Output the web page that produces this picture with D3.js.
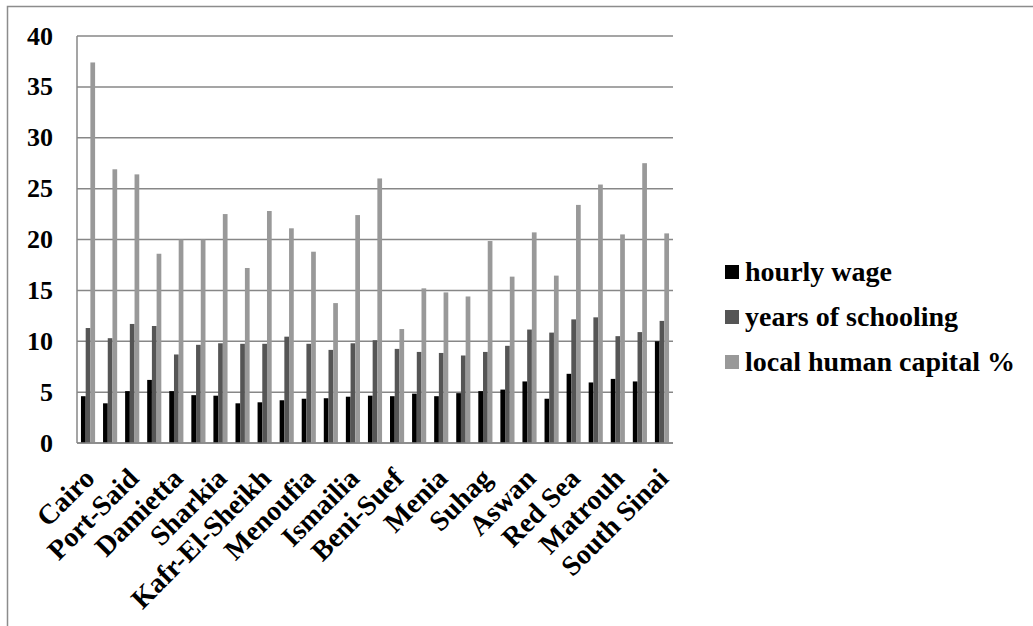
<!DOCTYPE html>
<html>
<head>
<meta charset="utf-8">
<script src="https://cdn.jsdelivr.net/npm/d3@7/dist/d3.min.js"></script>
<style>
  html, body { margin: 0; padding: 0; background: #ffffff; }
  svg { display: block; }
  text { font-family: "Liberation Serif", "Times New Roman", serif; font-weight: bold; fill: #000; }
</style>
</head>
<body>
<svg id="chart" width="1033" height="626"></svg>
<script>
// Governorates (27), in the order they are plotted
const governorates = [
  "Cairo", "Alexandria", "Port-Said", "Suez", "Damietta", "Dakahlia", "Sharkia",
  "Kalyoubia", "Kafr-El-Sheikh", "Gharbia", "Menoufia", "Behera", "Ismailia",
  "Giza", "Beni-Suef", "Fayoum", "Menia", "Assiut", "Suhag", "Qena", "Aswan",
  "Luxor", "Red Sea", "New Valley", "Matrouh", "North Sinai", "South Sinai"
];

const seriesNames = ["hourly wage", "years of schooling", "local human capital %"];

const hourlyWage = [
  4.6, 3.9, 5.1, 6.2, 5.1, 4.7, 4.65, 3.9, 4.0, 4.2, 4.35, 4.4, 4.55,
  4.65, 4.6, 4.85, 4.6, 4.9, 5.1, 5.25, 6.05, 4.35, 6.8, 5.95, 6.3, 6.05, 10.0
];
const yearsOfSchooling = [
  11.3, 10.3, 11.7, 11.5, 8.7, 9.65, 9.8, 9.75, 9.75, 10.45, 9.75, 9.15, 9.8,
  10.1, 9.25, 8.95, 8.85, 8.6, 8.95, 9.55, 11.15, 10.85, 12.15, 12.35, 10.5, 10.9, 12.0
];
const localHumanCapital = [
  37.4, 26.9, 26.4, 18.6, 20.0, 20.0, 22.5, 17.2, 22.8, 21.1, 18.8, 13.75, 22.4,
  26.0, 11.2, 15.2, 14.8, 14.4, 19.85, 16.35, 20.7, 16.45, 23.4, 25.4, 20.5, 27.5, 20.6
];

const yTicks = [0, 5, 10, 15, 20, 25, 30, 35, 40];
const seriesColors = ["#000000", "#555555", "#999999"];

const series = [hourlyWage, yearsOfSchooling, localHumanCapital];

const svg = d3.select("#chart");

// outer chart frame
svg.append("rect")
  .attr("x", 7.5).attr("y", 6.5)
  .attr("width", 1100).attr("height", 700)
  .attr("fill", "none")
  .attr("stroke", "#8c8c8c")
  .attr("stroke-width", 1.5);

const plot = { left: 77, right: 673, top: 36, bottom: 443 };

const x = d3.scaleBand()
  .domain(governorates)
  .range([plot.left, plot.right])
  .paddingInner(0.36)
  .paddingOuter(0.18);

const xSub = d3.scaleBand()
  .domain(d3.range(series.length))
  .range([0, x.bandwidth()]);

const y = d3.scaleLinear()
  .domain([0, 40])
  .range([plot.bottom, plot.top]);

// horizontal gridlines
svg.append("g")
  .selectAll("line")
  .data(yTicks)
  .join("line")
  .attr("x1", plot.left).attr("x2", plot.right)
  .attr("y1", d => y(d)).attr("y2", d => y(d))
  .attr("stroke", "#878787")
  .attr("stroke-width", 1.5);

// y tick labels
svg.append("g")
  .selectAll("text")
  .data(yTicks)
  .join("text")
  .attr("x", 53)
  .attr("y", d => y(d))
  .attr("dy", "0.33em")
  .attr("text-anchor", "end")
  .style("font-size", "26px")
  .text(d => d);

// bars
const groups = svg.append("g")
  .selectAll("g")
  .data(governorates)
  .join("g")
  .attr("transform", d => `translate(${x(d)},0)`);

groups.selectAll("rect")
  .data((d, i) => series.map((s, k) => ({ k, v: s[i] })))
  .join("rect")
  .attr("x", d => xSub(d.k))
  .attr("width", xSub.bandwidth())
  .attr("y", d => y(d.v))
  .attr("height", d => y(0) - y(d.v))
  .attr("fill", d => seriesColors[d.k]);

// axis lines
svg.append("line")
  .attr("x1", plot.left).attr("x2", plot.left)
  .attr("y1", plot.top).attr("y2", plot.bottom)
  .attr("stroke", "#878787").attr("stroke-width", 1.5);
svg.append("line")
  .attr("x1", plot.left).attr("x2", plot.right)
  .attr("y1", plot.bottom).attr("y2", plot.bottom)
  .attr("stroke", "#878787").attr("stroke-width", 1.5);

// category labels, every second governorate, rotated -45 degrees
svg.append("g")
  .selectAll("text")
  .data(governorates.filter((d, i) => i % 2 === 0))
  .join("text")
  .attr("transform", d => `translate(${x(d) + x.bandwidth() / 2 + 8},${plot.bottom + 37}) rotate(-45)`)
  .attr("text-anchor", "end")
  .style("font-size", "28px")
  .text(d => d);

// legend
const legend = svg.append("g")
  .selectAll("g")
  .data(seriesNames)
  .join("g")
  .attr("transform", (d, i) => `translate(725,${272 + i * 45})`);

legend.append("rect")
  .attr("x", 0).attr("y", -7)
  .attr("width", 14).attr("height", 14)
  .attr("fill", (d, i) => seriesColors[i]);

legend.append("text")
  .attr("x", 20)
  .attr("y", 0)
  .attr("dy", "0.33em")
  .style("font-size", "28px")
  .text(d => d);
</script>
</body>
</html>
